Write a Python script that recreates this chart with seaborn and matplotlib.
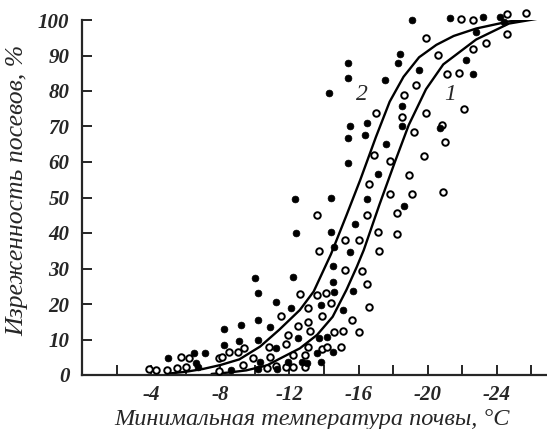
import matplotlib
matplotlib.use("Agg")
import matplotlib.pyplot as plt
import seaborn as sns
import pandas as pd

# Series 2 (filled dots): minimal soil temperature (°C, as magnitude), thinning (%)
t2 = [19.1, 18.4, 18.3, 15.4, 15.4, 17.5, 14.3, 19.5, 18.5, 16.5, 15.5, 18.5,
      15.4, 16.4, 17.6, 15.4, 17.1, 12.3, 14.4, 16.5, 18.6, 15.8, 12.4, 14.4, 15.5, 14.6,
      12.2, 14.5, 14.5, 14.6, 15.7, 13.8, 12.1, 15.1, 12.5, 13.7, 14.2, 14.5, 12.7, 13.8,
      10.0, 10.2, 11.2, 10.2, 9.2, 10.9, 8.2, 8.2, 9.1, 10.2, 7.1, 11.2, 5.0, 6.6, 10.3,
      6.7, 8.6, 10.2, 11.3, 21.3, 23.2, 24.2, 24.4, 22.8, 22.2, 22.6, 20.7,
      13.0, 11.9, 13.6, 6.5]
y2 = [100, 90.4, 88, 87.8, 83.8, 83, 79.3, 86, 75.8, 71.1, 70.1, 70.1,
      66.9, 67.6, 65.2, 59.6, 56.6, 49.6, 50, 49.7, 47.7, 42.4, 39.9, 40.4, 34.7, 36.1,
      27.7, 30.7, 26.3, 23.5, 23.7, 19.7, 19, 18.3, 10.5, 10.3, 10.6, 6.4, 3.8, 3.6,
      27.2, 23.2, 20.6, 15.5, 14.1, 13.6, 12.9, 8.5, 9.7, 10, 6.1, 7.5, 4.7, 3.5, 3.8,
      2.2, 1.4, 1.6, 1.7, 100.5, 100.8, 100.8, 99.5, 96.7, 88.7, 84.8, 69.5,
      3.5, 3.7, 6.3, 6.3]

# Series 1 (open circles)
t1 = [19.3, 18.6, 18.5, 17.0, 19.2, 16.9, 17.8, 18.9, 16.6, 17.8, 19.1, 13.6, 16.5, 18.2,
      17.1, 18.2, 15.2, 16.0, 13.7, 17.2,
      15.2, 16.2, 16.5, 12.6, 13.6, 14.1, 14.4, 13.1, 16.6, 13.9, 15.6, 13.1, 12.5, 13.2,
      14.6, 15.1, 16.0, 11.9, 11.8, 13.1, 13.9, 15.0, 12.9, 11.9, 12.9,
      11.5, 8.5, 9.0, 9.4, 10.8, 6.2, 7.9, 8.1, 9.9, 10.9, 9.3, 5.5, 6.0, 4.3, 4.9, 7.9,
      10.7, 11.8, 3.9, 5.7,
      21.9, 22.6, 24.6, 25.7, 24.6, 19.9, 23.4, 22.6, 20.6, 21.8, 21.1, 22.1, 19.9, 20.8,
      21.0, 19.8, 20.9, 14.2, 12.2, 12.2, 11.2]
y1 = [81.6, 78.9, 72.6, 73.9, 68.5, 62, 60.4, 56.3, 53.8, 50.9, 50.9, 45, 45, 45.5,
      40.4, 39.7, 38, 38, 35, 35,
      29.6, 29.4, 25.6, 22.7, 22.5, 23, 20.2, 18.8, 19.2, 16.6, 15.5, 15, 13.8, 12.5,
      12, 12.4, 12, 11.3, 8.8, 8, 7.2, 7.8, 5.6, 2.5, 2.2,
      16.7, 6.4, 6.6, 7.5, 7.8, 4.7, 4.7, 5.0, 4.7, 5.2, 2.8, 1.9, 2.2, 1.4, 1.4, 1.2,
      1.9, 2.3, 1.6, 5.0,
      100.3, 100, 101.6, 102, 96, 95, 93.6, 91.8, 90.1, 85.2, 84.8, 74.8, 73.7, 70.4,
      65.5, 61.8, 51.6, 7.8, 5.6, 2.3, 2.5]

# Fitted curves
curve2_t = [5.0, 6.0, 7.0, 8.0, 9.1, 10.3, 11.4, 12.6, 13.4, 14.4, 15.3, 16.1, 17.0, 17.8,
            18.6, 19.5, 20.5, 21.5, 22.8, 24.7, 26.9]
curve2_y = [0.4, 0.9, 1.7, 2.8, 4.4, 8.0, 12.7, 18.3, 23.5, 34.0, 45.0, 55.0, 67.0, 77.0,
            84.0, 89.5, 93.0, 95.5, 97.6, 99.6, 100.8]
curve1_t = [7.5, 8.5, 9.5, 10.7, 11.4, 12.6, 13.6, 14.5, 15.3, 15.9, 16.3, 17.2, 18.1, 18.9,
            19.9, 20.9, 22.8, 24.7, 26.9]
curve1_y = [0.3, 0.7, 1.3, 2.7, 4.5, 7.5, 11.3, 16.4, 24.0, 30.5, 35.2, 47.9, 60.0, 70.4,
            80.5, 87.5, 94.5, 99.0, 100.8]

x_ticks = [-2, -4, -6, -8, -10, -12, -14, -16, -18, -20, -22, -24, -26]
x_labels = ["", "-4", "", "-8", "", "-12", "", "-16", "", "-20", "", "-24", ""]
y_ticks = [0, 10, 20, 30, 40, 50, 60, 70, 80, 90, 100]

sns.set_style("ticks")
plt.rcParams["font.family"] = ["Liberation Serif", "DejaVu Serif"]

pts1 = pd.DataFrame({"t": [-v for v in t1], "y": y1})
pts2 = pd.DataFrame({"t": [-v for v in t2], "y": y2})
c1 = pd.DataFrame({"t": [-v for v in curve1_t], "y": curve1_y})
c2 = pd.DataFrame({"t": [-v for v in curve2_t], "y": curve2_y})

fig = plt.figure(figsize=(5.47, 4.29), dpi=100)
ax = fig.add_axes([82 / 547, 54 / 429, 465 / 547, 355 / 429])

sns.lineplot(data=c1, x="t", y="y", ax=ax, color="black", lw=1.7, estimator=None, sort=False)
sns.lineplot(data=c2, x="t", y="y", ax=ax, color="black", lw=1.7, estimator=None, sort=False)
sns.scatterplot(data=pts1, x="t", y="y", ax=ax, s=22, facecolor="white",
                edgecolor="black", linewidth=1.4, clip_on=False, zorder=3)
sns.scatterplot(data=pts2, x="t", y="y", ax=ax, s=24, color="black",
                edgecolor="black", linewidth=0.5, clip_on=False, zorder=3)

ax.set_xlim(0, -26.9)
ax.set_ylim(0, 100)
ax.set_xticks(x_ticks)
ax.set_xticklabels(x_labels)
ax.set_yticks(y_ticks)
ax.set_yticklabels([str(v) for v in y_ticks])
ax.tick_params(direction="in", length=7, width=1.4, labelsize=15)
for lab in ax.get_xticklabels() + ax.get_yticklabels():
    lab.set_fontstyle("italic")
    lab.set_fontweight("bold")
ax.tick_params(axis="x", pad=7)
ax.tick_params(axis="y", pad=9)

for side in ["top", "right"]:
    ax.spines[side].set_visible(False)
for side in ["left", "bottom"]:
    ax.spines[side].set_linewidth(1.6)

ax.set_xlabel("Минимальная температура почвы, °C", fontsize=17.5, fontstyle="italic")
ax.set_ylabel("Изреженность посевов, %", fontsize=18.5, fontstyle="italic")
ax.xaxis.set_label_coords(0.495, -0.095)
ax.yaxis.set_label_coords(-0.115, 0.52)

ax.text(-16.2, 79, "2", fontsize=17, fontstyle="italic", ha="center", va="center")
ax.text(-21.3, 79, "1", fontsize=17, fontstyle="italic", ha="center", va="center")

fig.savefig("out.png", dpi=100)
